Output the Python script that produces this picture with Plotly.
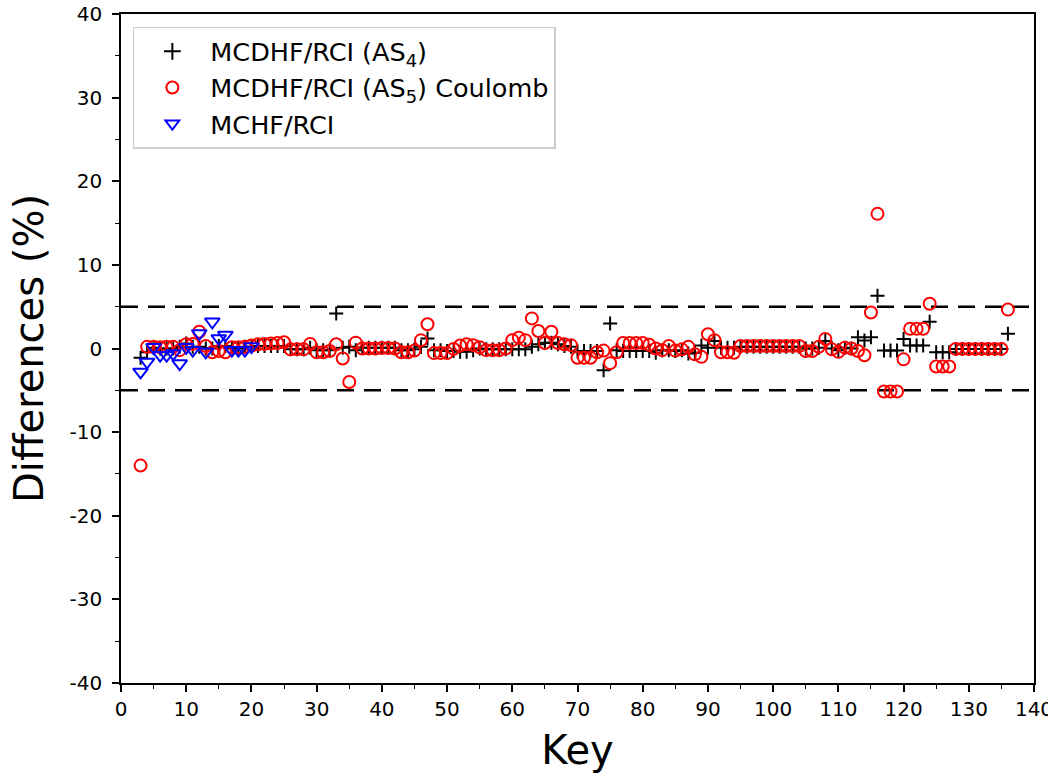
import plotly.graph_objects as go

# keys of the transitions (AS4 and AS5 share the same keys)
keys = list(range(3, 137))
keys_mchf = list(range(3, 21))

# MCDHF/RCI (AS4) differences in %
diff_as4 = [
    -1.1, -0.45, 0.1, 0.0, 0.0, 0.0, 0.2, 0.6, 0.2, 0.2,
    0.0, 0.0, 0.3, 0.3, 0.0, 0.0, 0.2, 0.2, 0.3, 0.3,
    0.3, 0.3, 0.3, -0.1, -0.1, -0.1, 0.1, -0.2, -0.2, -0.2,
    4.2, 0.1, 0.2, -0.2, 0.1, 0.1, 0.1, 0.1, 0.1, 0.1,
    -0.2, -0.2, -0.1, 0.2, 1.2, -0.2, -0.2, -0.3, -0.3, -0.4,
    -0.4, -0.2, 0.0, -0.1, -0.1, -0.1, -0.1, -0.1, -0.1, -0.1,
    0.2, 0.5, 0.7, 0.7, 0.5, 0.3, 0.2, -0.35, -0.3, -0.3,
    -0.3, -2.6, 3.0, -0.2, -0.3, -0.3, -0.3, -0.3, -0.3, -0.5,
    -0.2, -0.2, -0.3, -0.2, -0.6, -0.5, 0.35, 0.1, 0.9, 0.1,
    0.1, 0.1, 0.2, 0.2, 0.2, 0.2, 0.2, 0.2, 0.2, 0.2,
    0.2, 0.2, 0.0, 0.0, 0.1, 0.9, 0.0, -0.2, 0.1, 0.0,
    1.35, 0.95, 1.35, 6.3, -0.25, -0.25, -0.25, 1.15, 0.35, 0.35,
    0.35, 3.2, -0.45, -0.45, -0.45, -0.05, -0.05, -0.05, -0.05, -0.05,
    -0.05, -0.05, -0.05, 1.75,
]

# MCDHF/RCI (AS5) Coulomb differences in %
diff_as5 = [
    -14.0, 0.2, 0.2, 0.15, 0.2, 0.2, -0.2, 0.5, 0.55, 2.0,
    0.3, -0.45, -0.3, -0.45, 0.15, 0.15, 0.2, 0.35, 0.5, 0.55,
    0.6, 0.65, 0.75, -0.1, -0.1, -0.1, 0.55, -0.45, -0.45, -0.3,
    0.5, -1.2, -4.0, 0.7, 0.0, 0.0, 0.0, 0.05, 0.05, 0.0,
    -0.45, -0.45, -0.25, 1.0, 2.9, -0.55, -0.55, -0.55, -0.05, 0.35,
    0.5, 0.4, 0.15, -0.2, -0.2, -0.2, 0.0, 1.0, 1.3, 1.0,
    3.6, 2.1, 0.65, 2.0, 0.65, 0.5, 0.4, -1.1, -1.1, -1.1,
    -0.45, -0.25, -1.75, -0.45, 0.65, 0.65, 0.65, 0.65, 0.45, 0.0,
    -0.2, 0.3, -0.25, -0.1, 0.2, -0.7, -1.0, 1.7, 1.0, -0.45,
    -0.45, -0.5, 0.3, 0.3, 0.3, 0.3, 0.3, 0.3, 0.3, 0.3,
    0.3, 0.3, -0.3, -0.3, 0.2, 1.15, -0.1, -0.4, 0.1, 0.0,
    -0.3, -0.8, 4.3, 16.1, -5.15, -5.15, -5.15, -1.3, 2.35, 2.35,
    2.35, 5.35, -2.15, -2.15, -2.15, -0.05, -0.05, -0.05, -0.05, -0.05,
    -0.05, -0.05, -0.05, 4.65,
]

# MCHF/RCI differences in %
diff_mchf = [
    -2.8, -1.6, 0.15, -0.8, -0.8, -0.6, -1.8, 0.15, -0.2, 1.8,
    -0.4, 3.2, 1.2, 1.6, -0.2, -0.2, -0.2, 0.25,
]

x_ticks = [0, 10, 20, 30, 40, 50, 60, 70, 80, 90, 100, 110, 120, 130, 140]
y_ticks = [-40, -30, -20, -10, 0, 10, 20, 30, 40]

limit = 5  # +-5 % band

FONT = "DejaVu Sans"

fig = go.Figure()

fig.add_trace(go.Scatter(
    x=keys, y=diff_as4, mode="markers", name="MCDHF/RCI (AS<sub>4</sub>)",
    marker=dict(symbol="cross-thin", size=10, color="black",
                line=dict(color="black", width=2)),
))
fig.add_trace(go.Scatter(
    x=keys, y=diff_as5, mode="markers", name="MCDHF/RCI (AS<sub>5</sub>) Coulomb",
    marker=dict(symbol="circle-open", size=12, color="red",
                line=dict(color="red", width=2)),
))
fig.add_trace(go.Scatter(
    x=keys_mchf, y=diff_mchf, mode="markers", name="MCHF/RCI",
    marker=dict(symbol="triangle-down-open", size=13, color="blue",
                line=dict(color="blue", width=2)),
))

for lvl in (limit, -limit):
    fig.add_hline(y=lvl, line=dict(color="black", width=2.5, dash="17px,10px"),
                  layer="below")

axis_common = dict(
    showgrid=False, zeroline=False, showline=True, mirror=True,
    linecolor="black", linewidth=1.5, ticks="outside", ticklen=7,
    tickwidth=1.5, tickcolor="black", automargin=False,
    ticklabeloverflow="allow",
    tickfont=dict(family=FONT, size=20, color="black"),
    minor=dict(ticks="outside", ticklen=4, tickwidth=1, tickcolor="black", dtick=5),
)

fig.update_layout(
    width=1048, height=782,
    margin=dict(l=121, r=14, t=14, b=99),
    paper_bgcolor="white", plot_bgcolor="white",
    font=dict(family=FONT, color="black"),
    xaxis=dict(range=[0, 140], tickvals=x_ticks, ticktext=[str(v) for v in x_ticks],
               title=dict(text="Key", font=dict(family=FONT, size=40), standoff=16),
               **axis_common),
    yaxis=dict(range=[-40, 40], tickvals=y_ticks, ticktext=[str(v) for v in y_ticks],
               ticklabelstandoff=6,
               title=dict(text="Differences (%)", font=dict(family=FONT, size=40), standoff=14),
               **axis_common),
    legend=dict(x=0.013, y=0.981, xanchor="left", yanchor="top",
                bgcolor="white", bordercolor="#cccccc", borderwidth=1.5,
                font=dict(family=FONT, size=25.5, color="black"),
                itemwidth=66, itemsizing="constant"),
    showlegend=True,
)

# drop the page's default body margin so the figure fills the window
fig.write_html("out.html", config={"displayModeBar": False},
               post_script="document.body.style.margin = '0px';")
